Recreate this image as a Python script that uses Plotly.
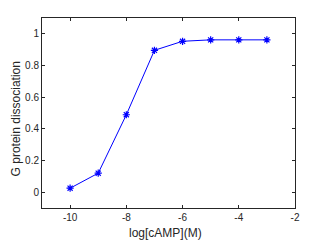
import plotly.graph_objects as go

log_camp = [-10, -9, -8, -7, -6, -5, -4, -3]
dissociation = [0.025, 0.12, 0.489, 0.896, 0.953, 0.962, 0.962, 0.962]
x_ticks = [-10, -8, -6, -4, -2]
y_ticks = [0, 0.2, 0.4, 0.6, 0.8, 1]
y_tick_labels = ["0", "0.2", "0.4", "0.6", "0.8", "1"]

FONT = "Liberation Sans, Arial, sans-serif"
TXT = "#262626"

fig = go.Figure()
fig.add_trace(go.Scatter(
    x=log_camp, y=dissociation, mode="lines+markers",
    line=dict(color="#0000ff", width=1),
    marker=dict(symbol="asterisk-open", size=6, color="#0000ff",
                line=dict(color="#0000ff", width=1.2)),
    showlegend=False,
))

axis_common = dict(
    showgrid=False, zeroline=False, showline=True, linecolor=TXT,
    linewidth=1, mirror="ticks", ticks="inside", ticklen=3, tickcolor=TXT,
    tickfont=dict(family=FONT, size=10, color=TXT), automargin=False,
)
fig.update_xaxes(range=[-11, -2], tickvals=x_ticks, ticktext=[str(v) for v in x_ticks],
                 **axis_common)
fig.update_yaxes(range=[-0.1, 1.1], tickvals=y_ticks, ticktext=y_tick_labels,
                 **axis_common)
fig.add_annotation(text="log[cAMP](M)", xref="paper", yref="paper", x=0.488, y=-0.134,
                   xanchor="center", yanchor="middle", showarrow=False,
                   font=dict(family=FONT, size=12, color=TXT))
fig.add_annotation(text="G protein dissociation", xref="paper", yref="paper", x=-0.103, y=0.471,
                   xanchor="center", yanchor="middle", showarrow=False, textangle=-90,
                   font=dict(family=FONT, size=12, color=TXT))
# page body has an 8px margin, so the figure is drawn 8px smaller and offset
fig.update_layout(
    width=319, height=234,
    margin=dict(l=34, r=32, t=10, b=34),
    plot_bgcolor="white", paper_bgcolor="white",
)
fig.write_html("out.html")
